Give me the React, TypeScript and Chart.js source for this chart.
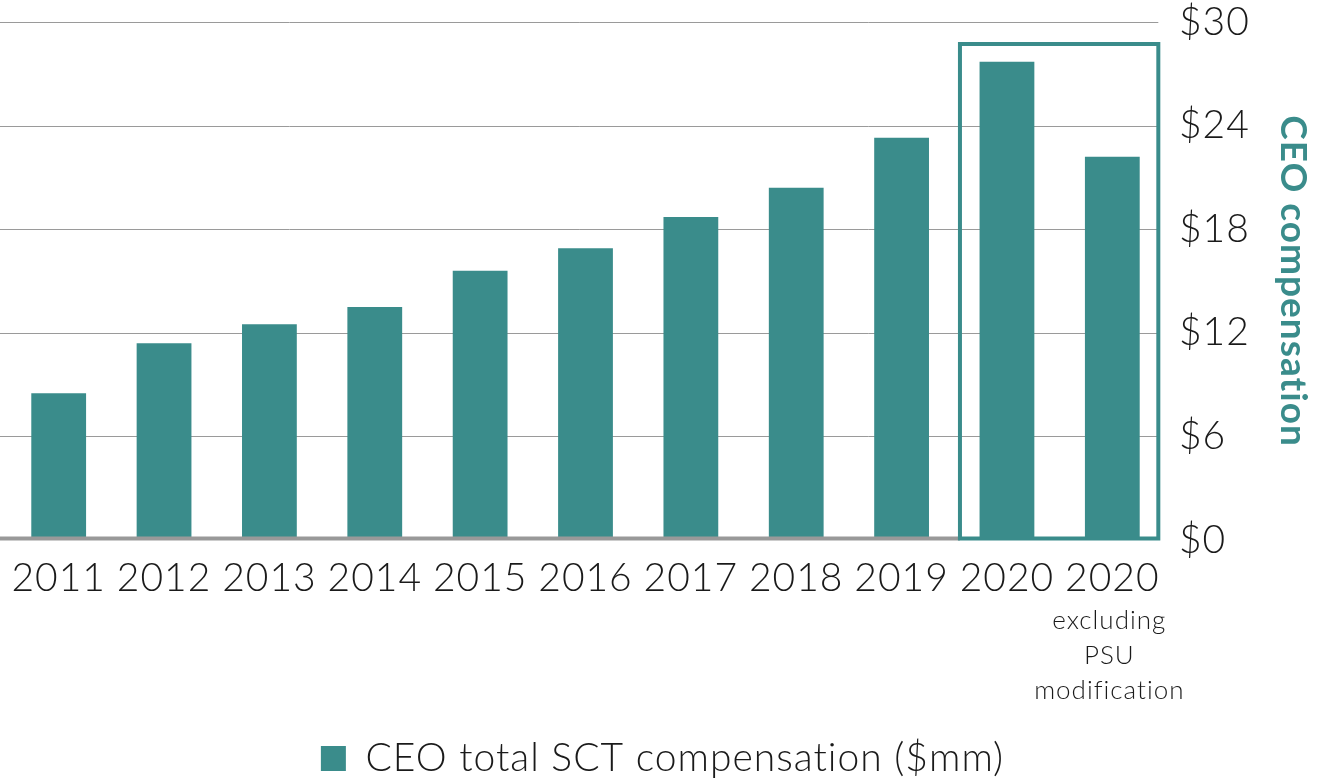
import { useEffect, useRef } from 'react';
import { Chart, registerables } from 'chart.js';

Chart.register(...registerables);

const categories = ['2011', '2012', '2013', '2014', '2015', '2016', '2017', '2018', '2019', '2020', '2020'];
const compensation = [8.5, 11.4, 12.5, 13.5, 15.6, 16.9, 18.7, 20.4, 23.3, 27.7, 22.2];
const subLabel = ['excluding', 'PSU', 'modification'];
const seriesLabel = 'CEO total SCT compensation ($mm)';
const axisTitle = 'CEO compensation';

const TEAL = '#3a8c8b';
const FONT = 'Lato, "Open Sans", sans-serif';

const setSpacing = (chart: any) => {
  const ctx = chart.ctx as any;
  if (ctx && 'letterSpacing' in ctx) ctx.letterSpacing = '1px';
};

const decor = {
  id: 'decor',
  beforeUpdate(chart: any) {
    setSpacing(chart);
  },
  beforeLayout(chart: any) {
    setSpacing(chart);
  },
  beforeDraw(chart: any) {
    setSpacing(chart);
  },
  beforeDatasetsDraw(chart: any) {
    const { ctx, scales } = chart;
    const x = scales.x;
    const y = scales.y;
    const boxRight = x.getPixelForValue(categories.length - 1) + 46;
    ctx.save();
    ctx.strokeStyle = '#9a9a9a';
    ctx.lineWidth = 1;
    y.ticks.forEach((t: any) => {
      if (t.value === 0) return;
      const py = Math.round(y.getPixelForValue(t.value)) + 0.5;
      ctx.beginPath();
      ctx.moveTo(0, py);
      ctx.lineTo(boxRight, py);
      ctx.stroke();
    });
    ctx.restore();
  },
  afterDatasetsDraw(chart: any) {
    const { ctx, scales, chartArea } = chart;
    const x = scales.x;
    const y = scales.y;
    const n = categories.length;
    const boxLeft = x.getPixelForValue(n - 2) - 47;
    const boxRight = x.getPixelForValue(n - 1) + 46;
    const y0 = y.getPixelForValue(0);
    ctx.save();
    ctx.strokeStyle = '#999999';
    ctx.lineWidth = 4;
    ctx.beginPath();
    ctx.moveTo(0, y0 - 1.5);
    ctx.lineTo(boxLeft, y0 - 1.5);
    ctx.stroke();

    ctx.strokeStyle = TEAL;
    ctx.lineWidth = 4;
    const top = chartArea.top + 22;
    const bottom = y0 - 1.5;
    ctx.strokeRect(boxLeft, top, boxRight - boxLeft, bottom - top);

    ctx.fillStyle = '#1a1a1a';
    ctx.font = `300 26px ${FONT}`;
    ctx.textAlign = 'center';
    ctx.textBaseline = 'middle';
    const cx = x.getPixelForValue(n - 1) - 3;
    subLabel.forEach((s, i) => {
      ctx.fillText(s, cx, 621 + i * 35);
    });
    ctx.restore();
  },
};

export default function App() {
  const ref = useRef<HTMLCanvasElement | null>(null);
  useEffect(() => {
    document.body.style.margin = '0';
    const canvas = ref.current;
    if (!canvas) return;
    const chart = new Chart(canvas, {
      type: 'bar',
      data: {
        labels: categories,
        datasets: [
          {
            label: seriesLabel,
            data: compensation,
            backgroundColor: TEAL,
            borderWidth: 0,
            barPercentage: 0.52,
            categoryPercentage: 1,
          },
        ],
      },
      plugins: [decor],
      options: {
        responsive: false,
        animation: false,
        layout: { padding: { left: 6, top: 22, right: 0, bottom: -6 } },
        plugins: {
          tooltip: { enabled: false },
          legend: {
            position: 'bottom',
            labels: {
              color: '#1a1a1a',
              boxWidth: 25,
              boxHeight: 25,
              padding: 4,
              font: { family: FONT, size: 39, weight: '300' as any },
            },
          },
        },
        scales: {
          x: {
            grid: { display: false, drawTicks: false },
            border: { display: false },
            ticks: {
              color: '#1a1a1a',
              padding: 15,
              maxRotation: 0,
              autoSkip: false,
              font: { family: FONT, size: 39, weight: '300' as any },
            },
            afterFit(scale: any) {
              scale.height = 195;
              scale.paddingLeft = 0;
              scale.paddingRight = 0;
            },
          },
          y: {
            position: 'right',
            min: 0,
            max: 30,
            grid: { display: false, drawTicks: false },
            border: { display: false },
            ticks: {
              stepSize: 6,
              padding: 14,
              color: '#1a1a1a',
              font: { family: FONT, size: 39, weight: '300' as any },
              callback: (v: any) => '$' + v,
            },
            title: {
              display: true,
              text: axisTitle,
              color: TEAL,
              padding: 4,
              font: { family: FONT, size: 37, weight: 'bold' },
            },
            afterFit(scale: any) {
              scale.width = 154;
              scale.paddingTop = 0;
              scale.paddingBottom = 0;
            },
          },
        },
      },
    });
    return () => chart.destroy();
  }, []);
  return (
    <div style={{ position: 'absolute', left: 0, top: 0, width: 1319, height: 782 }}>
      <canvas ref={ref} width={1319} height={782} style={{ display: 'block' }} />
    </div>
  );
}
